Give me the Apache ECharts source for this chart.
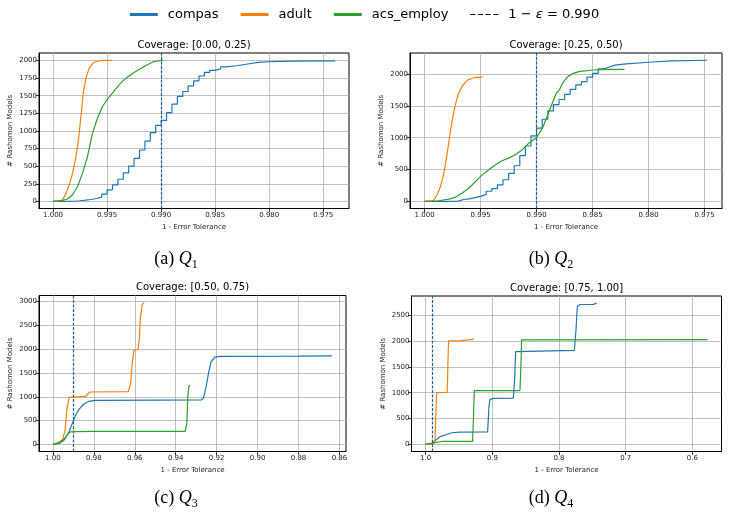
<!DOCTYPE html>
<html>
<head>
<meta charset="utf-8">
<title>Rashomon Models by Coverage</title>
<script src="https://cdn.jsdelivr.net/npm/echarts@6/dist/echarts.min.js"></script>
<style>
  html, body { margin: 0; padding: 0; background: #fff; }
  #chart { width: 729px; height: 514px; }
</style>
</head>
<body>
<div id="chart"></div>
<script type="text/javascript">
    // ---- tick labels ----
    var xTicksAB = [1.000, 0.995, 0.990, 0.985, 0.980, 0.975];
    var xTicksC = [1.00, 0.98, 0.96, 0.94, 0.92, 0.90, 0.88, 0.86];
    var xTicksD = [1.0, 0.9, 0.8, 0.7, 0.6];
    var yTicksA = [0, 250, 500, 750, 1000, 1250, 1500, 1750, 2000];
    var yTicksB = [0, 500, 1000, 1500, 2000];
    var yTicksC = [0, 500, 1000, 1500, 2000, 2500, 3000];
    var yTicksD = [0, 500, 1000, 1500, 2000, 2500];

    var titles = ['Coverage: [0.00, 0.25)', 'Coverage: [0.25, 0.50)', 'Coverage: [0.50, 0.75)', 'Coverage: [0.75, 1.00]'];
    var captions = [['(a) ', '1'], ['(b) ', '2'], ['(c) ', '3'], ['(d) ', '4']];
    var threshold = 0.990;

    // ---- Coverage [0.00, 0.25) : [1 - error tolerance, # models] ----
    var compasA = [[1.0000,0],[0.9990,3],[0.9980,10],[0.9975,18],[0.9970,28],[0.9965,42],[0.9960,62],[0.9955,105],
        [0.9950,165],[0.9945,235],[0.9940,315],[0.9935,405],[0.9930,500],[0.9925,610],[0.9920,730],[0.9915,855],
        [0.9910,975],[0.9905,1080],[0.9900,1150],[0.9895,1260],[0.9890,1380],[0.9885,1490],[0.9880,1560],[0.9875,1640],
        [0.9870,1710],[0.9865,1780],[0.9860,1830],[0.9855,1860],[0.9850,1880],[0.9845,1910],[0.9840,1925],[0.9830,1950],
        [0.9820,1972],[0.9810,1982],[0.9800,1990],[0.9780,1994],[0.9739,1995]];
    var adultA = [[1.00000,0],[0.99957,0],[0.99911,24],[0.99880,118],[0.99850,236],[0.99819,402],[0.99794,590],
        [0.99773,780],[0.99758,969],[0.99739,1252],[0.99721,1536],[0.99696,1749],[0.99666,1890],[0.99620,1975],
        [0.99558,2000],[0.99457,2000]];
    var acsA = [[1.00000,0],[0.99911,14],[0.99865,38],[0.99819,95],[0.99773,213],[0.99727,402],[0.99681,638],
        [0.99635,969],[0.99589,1181],[0.99543,1347],[0.99497,1451],[0.99451,1536],[0.99390,1654],[0.99328,1749],
        [0.99236,1843],[0.99144,1924],[0.99067,1985],[0.98991,2000],[0.98980,2000]];

    // ---- Coverage [0.25, 0.50) ----
    var compasB = [[1.0000,0],[0.9980,5],[0.9970,30],[0.9965,40],[0.9960,60],[0.9955,80],[0.9950,110],[0.9945,160],
        [0.9940,200],[0.9935,260],[0.9930,340],[0.9925,440],[0.9920,560],[0.9915,720],[0.9910,870],[0.9905,1030],
        [0.9900,1150],[0.9895,1290],[0.9890,1420],[0.9885,1520],[0.9880,1600],[0.9875,1680],[0.9870,1760],[0.9865,1830],
        [0.9860,1880],[0.9855,1950],[0.9850,2010],[0.9845,2080],[0.9840,2110],[0.9835,2140],[0.9830,2160],[0.9820,2185],
        [0.9800,2205],[0.9780,2216],[0.9748,2226]];
    var adultB = [[1.00000,0],[0.99946,0],[0.99916,26],[0.99887,105],[0.99857,237],[0.99827,447],[0.99797,763],
        [0.99776,1026],[0.99752,1289],[0.99728,1500],[0.99699,1684],[0.99663,1816],[0.99618,1905],[0.99558,1942],
        [0.99480,1955]];
    var acsB = [[1.00000,0],[0.99872,11],[0.99782,37],[0.99722,68],[0.99663,132],[0.99603,211],[0.99543,316],
        [0.99484,421],[0.99424,500],[0.99364,579],[0.99304,642],[0.99245,684],[0.99185,737],[0.99125,816],
        [0.99066,921],[0.99000,1000],[0.98946,1158],[0.98887,1421],[0.98827,1690],[0.98794,1763],[0.98764,1868],
        [0.98719,1963],[0.98674,2011],[0.98614,2042],[0.98494,2063],[0.98344,2074],[0.98216,2074]];

    // ---- Coverage [0.50, 0.75) ----
    var compasC = [[1.00000,0],[0.99694,21],[0.99453,91],[0.99212,266],[0.99051,442],[0.98890,617],[0.98729,736],
        [0.98488,849],[0.98246,905],[0.97924,926],[0.95000,930],[0.92759,933],[0.92645,968],[0.92515,1213],
        [0.92400,1494],[0.92270,1739],[0.92107,1830],[0.91863,1851],[0.88000,1855],[0.86367,1862]];
    var adultC = [[1.00000,0],[0.99775,35],[0.99533,91],[0.99405,301],[0.99324,722],[0.99212,988],[0.99131,1010],
        [0.98407,1010],[0.98294,1059],[0.98166,1101],[0.96316,1108],[0.96203,1283],[0.96123,1704],[0.96042,1970],
        [0.95946,1998],[0.95833,2000],[0.95785,2195],[0.95721,2686],[0.95640,2931],[0.95543,2980]];
    var acsC = [[1.00000,0],[0.99694,35],[0.99453,112],[0.99244,231],[0.99131,266],[0.98890,270],[0.98000,272],
        [0.93539,274],[0.93458,442],[0.93409,1003],[0.93360,1213],[0.93295,1248]];

    // ---- Coverage [0.75, 1.00] ----
    var compasD = [[1.000,0],[0.9910,20],[0.9860,71],[0.9785,149],[0.9710,181],[0.9610,226],[0.9485,239],
        [0.9070,240],[0.9050,730],[0.9035,872],[0.8985,891],[0.8685,893],[0.8665,1247],[0.8650,1796],[0.8625,1815],
        [0.7770,1818],[0.7745,2216],[0.7725,2668],[0.7685,2706],[0.7485,2708],[0.7435,2733]];
    var adultD = [[1.000,0],[0.9885,0],[0.9860,52],[0.9845,600],[0.9835,1001],[0.9675,1005],[0.9665,1570],
        [0.9655,2003],[0.9485,2008],[0.9360,2022],[0.9275,2041]];
    var acsD = [[1.000,0],[0.9910,19],[0.9785,52],[0.9735,58],[0.9295,60],[0.9280,600],[0.9270,1040],
        [0.8585,1042],[0.8570,1570],[0.8560,2022],[0.5775,2025]];

    var colors = {compas: '#1f77b4', adult: '#ff7f0e', acs_employ: '#2ca02c'};
    var epsName = '1 \u2212 \u03b5 = 0.990';
    var font = "'DejaVu Sans', sans-serif";
    var serif = "'Liberation Serif', 'DejaVu Serif', serif";

    // panel layout (a, b, c, d)
    var grids = [
        {left: 39, top: 53, width: 310, height: 155.5},
        {left: 410, top: 53, width: 312, height: 155.5},
        {left: 39, top: 295.5, width: 307, height: 156},
        {left: 411.5, top: 296, width: 310, height: 155.5}
    ];
    var xRanges = [[0.97262, 1.0013], [0.97345, 1.0013], [0.8568, 1.0068], [0.5564, 1.0211]];
    var yRanges = [[-100, 2106], [-111, 2330], [-149, 3129], [-137, 2870]];
    var xTicks = [xTicksAB, xTicksAB, xTicksC, xTicksD];
    var xDigits = [3, 3, 2, 1];
    var yTicks = [yTicksA, yTicksB, yTicksC, yTicksD];
    var panelData = [
        [compasA, adultA, acsA],
        [compasB, adultB, acsB],
        [compasC, adultC, acsC],
        [compasD, adultD, acsD]
    ];

    var xAxes = [], yAxes = [], series = [], titleList = [], graphics = [];

    for (var i = 0; i < 4; i++) {
        var g = grids[i];
        g.show = true;
        g.borderColor = '#000';
        g.borderWidth = 1;
        g.backgroundColor = 'transparent';

        (function (digits) {
            xAxes.push({
                gridIndex: i, type: 'value', inverse: true,
                min: xRanges[i][0], max: xRanges[i][1],
                name: '1 - Error Tolerance', nameLocation: 'middle', nameGap: 15,
                nameTextStyle: {fontSize: 7, color: '#222', fontFamily: font},
                axisLine: {show: true, onZero: false, lineStyle: {color: '#000', width: 1}},
                axisTick: {show: true, length: 3.5, customValues: xTicks[i], lineStyle: {color: '#000', width: 0.8}},
                axisLabel: {customValues: xTicks[i], fontSize: 7, color: '#222', fontFamily: font, margin: 3,
                    formatter: function (v) { return v.toFixed(digits); }},
                splitLine: {show: true, lineStyle: {color: '#b0b0b0', width: 0.8}}
            });
        })(xDigits[i]);

        yAxes.push({
            gridIndex: i, type: 'value',
            min: yRanges[i][0], max: yRanges[i][1],
            name: '# Rashomon Models', nameLocation: 'middle', nameGap: 25, nameRotate: 90,
            nameTextStyle: {fontSize: 7, color: '#222', fontFamily: font},
            axisLine: {show: true, lineStyle: {color: '#000', width: 1}},
            axisTick: {show: true, length: 3.5, customValues: yTicks[i], lineStyle: {color: '#000', width: 0.8}},
            axisLabel: {customValues: yTicks[i], fontSize: 7, color: '#222', fontFamily: font, margin: 2,
                formatter: function (v) { return String(Math.round(v)); }},
            splitLine: {show: true, lineStyle: {color: '#b0b0b0', width: 0.8}}
        });

        var names = ['compas', 'adult', 'acs_employ'];
        for (var k = 0; k < 3; k++) {
            var s = {
                name: names[k], type: 'line', xAxisIndex: i, yAxisIndex: i,
                data: panelData[i][k], symbol: 'none', showSymbol: false,
                lineStyle: {color: colors[names[k]], width: 1.2},
                itemStyle: {color: colors[names[k]]},
                z: 3 + k
            };
            if (k === 0 && i < 2) s.step = 'end';
            if (k === 0) {
                s.markLine = {
                    silent: true, symbol: ['none', 'none'], label: {show: false},
                    lineStyle: {color: '#1f5f9e', type: [3, 1.5], width: 1.2},
                    data: [{xAxis: threshold}]
                };
            }
            series.push(s);
        }

        titleList.push({
            text: titles[i], left: g.left + g.width / 2, top: g.top - 13, textAlign: 'center', padding: 0,
            textStyle: {fontSize: 10, fontWeight: 'normal', color: '#000', fontFamily: font}
        });
    }

    // legend-only entry for the threshold line
    series.push({
        name: epsName, type: 'line', xAxisIndex: 0, yAxisIndex: 0, data: [], symbol: 'none',
        lineStyle: {color: '#000', type: [3.5, 1.5], width: 1.2}, itemStyle: {color: '#000'}
    });

    // sub-figure captions
    var capPos = [[176, 259], [551, 259], [176, 498], [551, 498]];
    for (var c = 0; c < 4; c++) {
        graphics.push({
            type: 'text', x: capPos[c][0], y: capPos[c][1],
            style: {
                text: '{n|' + captions[c][0] + '}{q|Q}{s|' + captions[c][1] + '}',
                align: 'center', verticalAlign: 'middle',
                rich: {
                    n: {fontSize: 18, fontFamily: serif, fill: '#000', lineHeight: 24},
                    q: {fontSize: 18, fontStyle: 'italic', fontFamily: serif, fill: '#000', lineHeight: 24},
                    s: {fontSize: 12, fontFamily: serif, fill: '#000', lineHeight: 14, verticalAlign: 'bottom'}
                }
            }
        });
    }

    var solidIcon = 'rect';
    var dashIcon = 'path://M0,0h5v1h-5z M7.5,0h5v1h-5z M15,0h5v1h-5z M22.5,0h5v1h-5z';

    var myChart = echarts.init(document.getElementById('chart'));
    var option = {
        animation: false,
        backgroundColor: '#fff',
        title: titleList,
        legend: {
            top: 3, left: 'center', itemWidth: 28, itemHeight: 3, itemGap: 22,
            data: [
                {name: 'compas', icon: solidIcon},
                {name: 'adult', icon: solidIcon},
                {name: 'acs_employ', icon: solidIcon},
                {name: epsName, icon: dashIcon}
            ],
            textStyle: {fontSize: 13, color: '#000', fontFamily: font, padding: [0, 0, 0, 5],
                rich: {i: {fontStyle: 'italic', fontSize: 13, fontFamily: font}}},
            formatter: function (name) {
                if (name === epsName) return '1 \u2212 {i|\u03b5} = 0.990';
                return name;
            }
        },
        grid: grids,
        xAxis: xAxes,
        yAxis: yAxes,
        series: series,
        graphic: graphics
    };
    myChart.setOption(option);
</script>
</body>
</html>
